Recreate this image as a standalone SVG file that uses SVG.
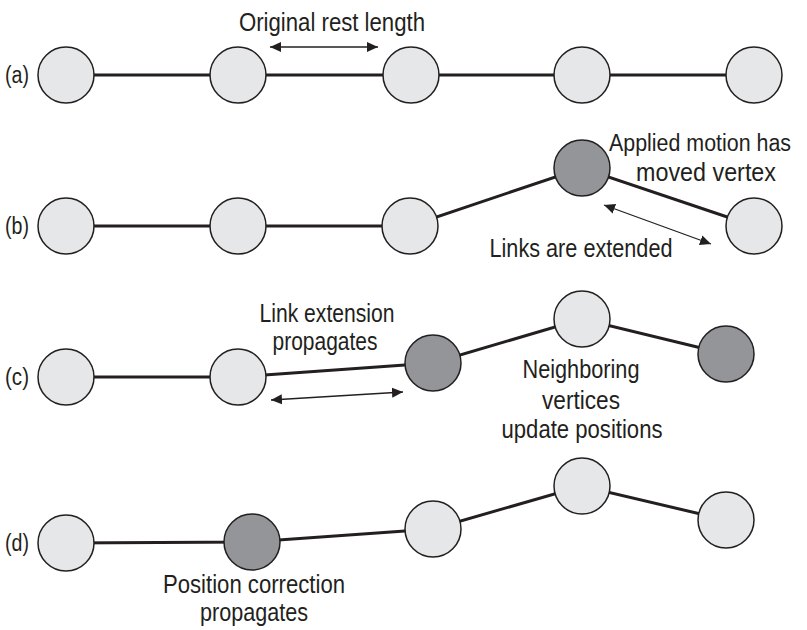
<svg xmlns="http://www.w3.org/2000/svg" width="807" height="630" viewBox="0 0 807 630">
<defs>
<style>
.bg{fill:#ffffff}
.lt{fill:#e6e7e8;stroke:#231f20;stroke-width:1.5}
.dk{fill:#939598;stroke:#231f20;stroke-width:1.5}
.link{stroke:#231f20;stroke-width:3;fill:none}
.arr{stroke:#231f20;stroke-width:1.3;fill:none;marker-start:url(#ah);marker-end:url(#ah)}
text{font-family:"Liberation Sans Narrow","Liberation Sans",Arial,sans-serif;fill:#231f20}
.t{font-size:25px;text-anchor:middle}
.lab{font-size:23px}
</style>
<marker id="ah" markerUnits="userSpaceOnUse" markerWidth="12" markerHeight="12" viewBox="0 0 12 12" refX="11" refY="6" orient="auto-start-reverse">
<path d="M0,1 L11,6 L0,11 Z" fill="#231f20"/>
</marker>
</defs>
<rect class="bg" x="0" y="0" width="807" height="630"/>
<g id="connectors">
<line class="link" x1="66" y1="75" x2="754" y2="75"/>
<polyline class="link" points="66,226 238,226 410,226 582,168 754,226"/>
<polyline class="link" points="66,377 238,377 433,363 582,319 726,354"/>
<polyline class="link" points="66,543 252,542 433,529 582,486 726,520"/>
<line class="arr" x1="270" y1="47" x2="378" y2="47"/>
<line class="arr" x1="604" y1="205" x2="711" y2="244"/>
<line class="arr" x1="271" y1="400" x2="403" y2="392"/>
</g>
<g id="row-a">
<text class="lab" x="5" y="83" textLength="24" lengthAdjust="spacingAndGlyphs">(a)</text>
<circle id="a1" class="lt" cx="66" cy="75" r="28"/>
<circle id="a2" class="lt" cx="238" cy="75" r="28"/>
<circle id="a3" class="lt" cx="411" cy="75" r="28"/>
<circle id="a4" class="lt" cx="582" cy="75" r="28"/>
<circle id="a5" class="lt" cx="754" cy="75" r="28"/>
<text class="t" x="332" y="31" textLength="186" lengthAdjust="spacingAndGlyphs">Original rest length</text>
</g>
<g id="row-b">
<text class="lab" x="5" y="234" textLength="24" lengthAdjust="spacingAndGlyphs">(b)</text>
<circle id="b1" class="lt" cx="66" cy="226" r="28"/>
<circle id="b2" class="lt" cx="238" cy="226" r="28"/>
<circle id="b3" class="lt" cx="410" cy="226" r="28"/>
<circle id="b4" class="dk" cx="582" cy="168" r="28"/>
<circle id="b5" class="lt" cx="754" cy="226" r="28"/>
<text class="t" x="700" y="151" style="font-size:23px" textLength="182" lengthAdjust="spacingAndGlyphs">Applied motion has</text>
<text class="t" x="706" y="181" textLength="140" lengthAdjust="spacingAndGlyphs">moved vertex</text>
<text class="t" x="581" y="257" textLength="183" lengthAdjust="spacingAndGlyphs">Links are extended</text>
</g>
<g id="row-c">
<text class="lab" x="5" y="385" textLength="24" lengthAdjust="spacingAndGlyphs">(c)</text>
<circle id="c1" class="lt" cx="66" cy="377" r="28"/>
<circle id="c2" class="lt" cx="238" cy="377" r="28"/>
<circle id="c3" class="dk" cx="433" cy="363" r="28"/>
<circle id="c4" class="lt" cx="582" cy="319" r="28"/>
<circle id="c5" class="dk" cx="726" cy="354" r="28"/>
<text class="t" x="327" y="322" textLength="135" lengthAdjust="spacingAndGlyphs">Link extension</text>
<text class="t" x="325" y="350" textLength="105" lengthAdjust="spacingAndGlyphs">propagates</text>
<text class="t" x="581" y="378" textLength="117" lengthAdjust="spacingAndGlyphs">Neighboring</text>
<text class="t" x="581" y="409" textLength="78" lengthAdjust="spacingAndGlyphs">vertices</text>
<text class="t" x="582" y="438" textLength="161" lengthAdjust="spacingAndGlyphs">update positions</text>
</g>
<g id="row-d">
<text class="lab" x="5" y="551" textLength="24" lengthAdjust="spacingAndGlyphs">(d)</text>
<circle id="d1" class="lt" cx="66" cy="543" r="28"/>
<circle id="d2" class="dk" cx="252" cy="542" r="28"/>
<circle id="d3" class="lt" cx="433" cy="529" r="28"/>
<circle id="d4" class="lt" cx="582" cy="486" r="28"/>
<circle id="d5" class="lt" cx="726" cy="520" r="28"/>
<text class="t" x="254" y="593" textLength="182" lengthAdjust="spacingAndGlyphs">Position correction</text>
<text class="t" x="254" y="621" textLength="108" lengthAdjust="spacingAndGlyphs">propagates</text>
</g>
</svg>
